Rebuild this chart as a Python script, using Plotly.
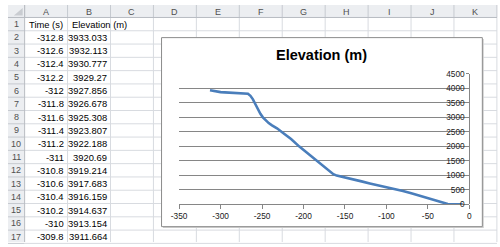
import plotly.graph_objects as go

W, H = 500, 247

# ---------------- data ----------------
col_letters = ["A", "B", "C", "D", "E", "F", "G", "H", "I", "J", "K"]
row_numbers = list(range(1, 18))
header_time = "Time (s)"
header_elev = "Elevation (m)"
table_time = [-312.8, -312.6, -312.4, -312.2, -312.0, -311.8, -311.6, -311.4,
              -311.2, -311.0, -310.8, -310.6, -310.4, -310.2, -310.0, -309.8]
table_elev = [3933.033, 3932.113, 3930.777, 3929.27, 3927.856, 3926.678, 3925.308,
              3923.807, 3922.188, 3920.69, 3919.214, 3917.683, 3916.159, 3914.637,
              3913.154, 3911.664]

curve_time = [-312.8, -309.8, -305, -300, -295, -290, -285, -280, -275, -270, -267,
              -264, -261, -258, -255, -252, -249, -246, -242, -238, -232, -225, -215,
              -205, -195, -185, -175, -168, -164, -160, -150, -140, -130, -120, -110,
              -100, -90, -80, -70, -60, -50, -40, -35, -30, -26, -20, -15, -8]
curve_elev = [3933, 3911.7, 3890, 3868, 3858, 3853, 3845, 3838, 3835, 3830, 3810,
              3740, 3620, 3450, 3280, 3120, 3000, 2900, 2800, 2720, 2620, 2470, 2250,
              1990, 1760, 1520, 1280, 1110, 1040, 990, 930, 860, 790, 720, 660,
              600, 530, 460, 380, 300, 220, 140, 100, 60, 10, 0, 0, 0]

x_tick_vals = [-350, -300, -250, -200, -150, -100, -50, 0]
x_tick_text = ["-350", "-300", "-250", "-200", "-150", "-100", "-50", "0"]
y_tick_vals = [0, 500, 1000, 1500, 2000, 2500, 3000, 3500, 4000, 4500]
y_tick_text = ["0", "500", "1000", "1500", "2000", "2500", "3000", "3500", "4000", "4500"]

chart_title = "Elevation (m)"

# ---------------- geometry helpers (pixels -> paper) ----------------
def px(x):
    return x / W

def py(y):
    return 1 - y / H

HDR_H = 13.0
ROW_H = 13.85
ROWHDR_W = 17.0
COL_W = 43.9
col_edges = [0, ROWHDR_W] + [ROWHDR_W + COL_W * (i + 1) for i in range(len(col_letters))]
row_edges = [0, HDR_H] + [HDR_H + ROW_H * (i + 1) for i in range(len(row_numbers))]

GRID = "#d8dbe0"
HDR_BG = "#eceef1"
HDR_LINE = "#c6cad0"
FONT = "Liberation Sans"

shapes = []
annotations = []

def rect(x0, y0, x1, y1, fill=None, line=None, lw=0):
    shapes.append(dict(type="rect", xref="paper", yref="paper",
                       x0=px(x0), x1=px(x1), y0=py(y1), y1=py(y0),
                       fillcolor=fill or "rgba(0,0,0,0)",
                       line=dict(color=line or "rgba(0,0,0,0)", width=lw),
                       layer="below"))

def line(x0, y0, x1, y1, color, lw=1):
    shapes.append(dict(type="line", xref="paper", yref="paper",
                       x0=px(x0), x1=px(x1), y0=py(y0), y1=py(y1),
                       line=dict(color=color, width=lw), layer="below"))

# header backgrounds
rect(0, 0, W, HDR_H, fill=HDR_BG)
rect(0, HDR_H, ROWHDR_W, H, fill=HDR_BG)

# body grid
for x in col_edges[2:]:
    line(x, HDR_H, x, H, GRID)
for y in row_edges[2:]:
    line(ROWHDR_W, y, W, y, GRID)
# header separators
for x in col_edges[1:]:
    line(x, 0, x, HDR_H, HDR_LINE)
for y in row_edges[1:]:
    line(0, y, ROWHDR_W, y, HDR_LINE)
line(0, HDR_H, W, HDR_H, "#b8bcc2")
line(ROWHDR_W, 0, ROWHDR_W, H, "#b8bcc2")
# corner triangle
shapes.append(dict(type="path", xref="paper", yref="paper",
                   path="M {} {} L {} {} L {} {} Z".format(px(6), py(11), px(15), py(11), px(15), py(3)),
                   fillcolor="#c9ccd1", line=dict(width=0), layer="below"))

# header text
for i, c in enumerate(col_letters):
    xc = (col_edges[i + 1] + col_edges[i + 2]) / 2
    annotations.append(dict(x=px(xc), y=py(HDR_H / 2 + 0.5), xref="paper", yref="paper",
                            text=c, showarrow=False, xanchor="center", yanchor="middle",
                            font=dict(family=FONT, size=9, color="#505050")))
for i, r in enumerate(row_numbers):
    yc = (row_edges[i + 1] + row_edges[i + 2]) / 2
    annotations.append(dict(x=px(ROWHDR_W / 2), y=py(yc), xref="paper", yref="paper",
                            text=str(r), showarrow=False, xanchor="center", yanchor="middle",
                            font=dict(family=FONT, size=9, color="#505050")))

def fmt(v):
    return "%.10g" % v

cell_font = dict(family=FONT, size=9.4, color="#000000")
# row 1 headers
yc1 = (row_edges[1] + row_edges[2]) / 2
annotations.append(dict(x=px(col_edges[1] + 2), y=py(yc1), xref="paper", yref="paper",
                        text=header_time, showarrow=False, xanchor="left", yanchor="middle",
                        font=cell_font))
annotations.append(dict(x=px(col_edges[2] + 2), y=py(yc1), xref="paper", yref="paper",
                        text=header_elev, showarrow=False, xanchor="left", yanchor="middle",
                        font=cell_font))
for i, (t, e) in enumerate(zip(table_time, table_elev)):
    yc = (row_edges[i + 2] + row_edges[i + 3]) / 2
    annotations.append(dict(x=px(col_edges[2] - 1.5), y=py(yc), xref="paper", yref="paper",
                            text=fmt(t), showarrow=False, xanchor="right", yanchor="middle",
                            font=cell_font))
    annotations.append(dict(x=px(col_edges[3] - 1.5), y=py(yc), xref="paper", yref="paper",
                            text=fmt(e), showarrow=False, xanchor="right", yanchor="middle",
                            font=cell_font))

# chart box (shadow + frame)
CB = (157, 34, 485, 231)
rect(CB[0] + 1.5, CB[1] + 1.5, CB[2] + 1.5, CB[3] + 1.5, fill="#d0d0d0")
rect(*CB, fill="#ffffff", line="#8c8c8c", lw=1)

annotations.append(dict(x=px((CB[0] + CB[2]) / 2), y=py(52), xref="paper", yref="paper",
                        text="<b>" + chart_title + "</b>", showarrow=False,
                        xanchor="center", yanchor="middle",
                        font=dict(family=FONT, size=14.5, color="#000000")))

# ---------------- chart ----------------
fig = go.Figure()
fig.add_trace(go.Scatter(x=curve_time, y=curve_elev, mode="lines",
                         line=dict(color="#4a7ebb", width=2.6),
                         hoverinfo="skip", showlegend=False))

PA_L, PA_R, PA_T, PA_B = 175.0, 471.7, 71.7, 207.7
axis_col = "#868686"
tick_font = dict(family=FONT, size=8.3, color="#1a1a1a")

fig.update_layout(
    width=W, height=H,
    margin=dict(l=0, r=0, t=0, b=0),
    paper_bgcolor="#ffffff",
    plot_bgcolor="rgba(0,0,0,0)",
    showlegend=False,
    shapes=shapes,
    annotations=annotations,
    xaxis=dict(domain=[px(PA_L), px(PA_R)], range=[-350, 0],
               tickmode="array", tickvals=x_tick_vals, ticktext=x_tick_text,
               showgrid=False, zeroline=False, showline=True, linecolor=axis_col,
               linewidth=1, ticks="outside", ticklen=4, tickcolor=axis_col,
               tickfont=tick_font, fixedrange=True),
    yaxis=dict(domain=[py(PA_B), py(PA_T)], range=[0, 4500],
               tickmode="array", tickvals=y_tick_vals, ticktext=y_tick_text,
               anchor="free", position=px(PA_R), side="left",
               showgrid=True, gridcolor=axis_col, gridwidth=1, zeroline=False,
               showline=True, linecolor=axis_col, linewidth=1,
               ticks="outside", ticklen=3, tickcolor=axis_col,
               tickfont=tick_font, fixedrange=True),
)

fig.write_html("out.html")
